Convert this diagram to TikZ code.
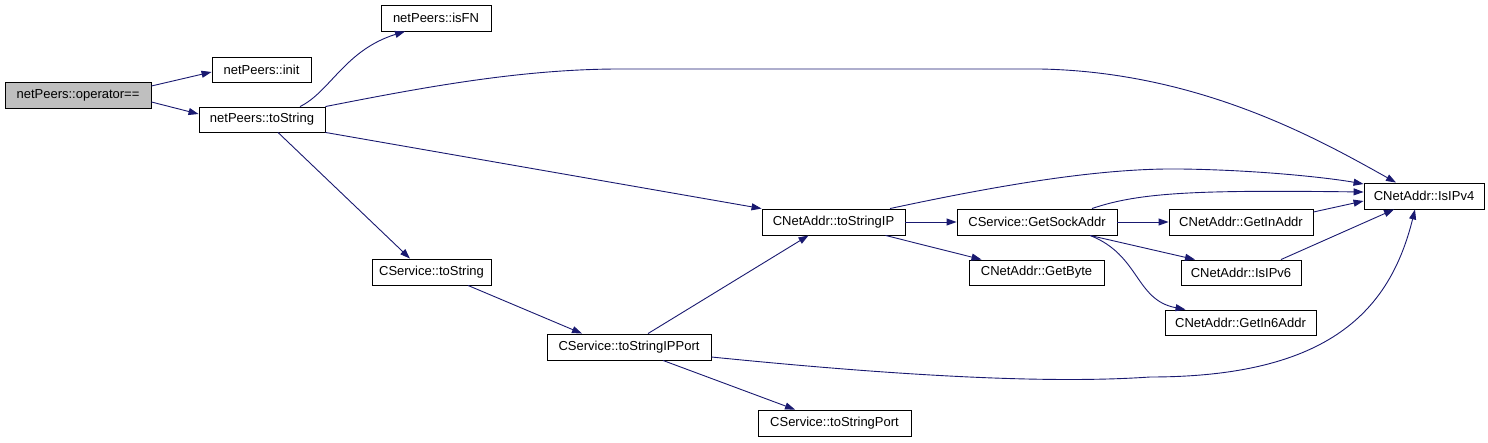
\documentclass[tikz,border=0pt]{standalone}
\usepackage{fontspec}
\setmainfont{Liberation Sans}
\usetikzlibrary{arrows.meta,calc}
\definecolor{edgeblue}{HTML}{191970}
\definecolor{nodegray}{HTML}{BFBFBF}
\tikzset{
  fn/.style={draw=black, line width=0.9pt, rectangle, inner sep=0pt, fill=white,
    font=\fontsize{13}{15}\selectfont},
  edge/.style={draw=edgeblue, line width=0.9pt, -{Triangle[length=10pt,width=7pt]}},
}
\begin{document}
\begin{tikzpicture}[x=1pt,y=-1pt]
\useasboundingbox (0,0) rectangle (1488,443);
% nodes
\node[fn, fill=nodegray, minimum width=146, minimum height=26] (op) at (78,95) {netPeers::operator==};
\node[fn, minimum width=99, minimum height=25] (init) at (261.5,69.5) {netPeers::init};
\node[fn, minimum width=126, minimum height=25] (nts) at (262,119.5) {netPeers::toString};
\node[fn, minimum width=110, minimum height=26] (isfn) at (436,18) {netPeers::isFN};
\node[fn, minimum width=119, minimum height=26] (cst) at (431.5,272) {CService::toString};
\node[fn, minimum width=164, minimum height=26] (ipport) at (629,347) {CService::toStringIPPort};
\node[fn, minimum width=153, minimum height=26] (port) at (834.5,423) {CService::toStringPort};
\node[fn, minimum width=143, minimum height=26] (tsip) at (833.5,222) {CNetAddr::toStringIP};
\node[fn, minimum width=160, minimum height=26] (gsa) at (1037,222) {CService::GetSockAddr};
\node[fn, minimum width=135, minimum height=25] (gb) at (1036.5,272.5) {CNetAddr::GetByte};
\node[fn, minimum width=144, minimum height=26] (gia) at (1241,222) {CNetAddr::GetInAddr};
\node[fn, minimum width=120, minimum height=25] (ip6) at (1241,272.5) {CNetAddr::IsIPv6};
\node[fn, minimum width=151, minimum height=25] (g6) at (1240.5,322.5) {CNetAddr::GetIn6Addr};
\node[fn, minimum width=120, minimum height=26] (ip4) at (1424,196) {CNetAddr::IsIPv4};
% edges
\draw[edge] ($(op.east)+(0,-9)$) -- ($(init.west)+(0,2.5)$);
\draw[edge] ($(op.east)+(0,7)$) -- ($(nts.west)+(0,-5.5)$);
\draw[edge] ($(nts.north)+(38,0)$) .. controls (330,92) and (345,50) .. ($(isfn.south)+(-31,0)$);
\draw[edge] (nts.north east) .. controls (420,88) and (520,69) .. (620,69) -- (1040,69)
   .. controls (1200,72) and (1320,140) .. ($(ip4.north)+(-28,0)$);
\draw[edge] (nts.south east) -- (tsip.north west);
\draw[edge] ($(nts.south)+(16,0)$) -- ($(cst.north)+(-21.5,0)$);
\draw[edge] ($(cst.south)+(36.5,0)$) -- ($(ipport.north)+(-47,0)$);
\draw[edge] ($(ipport.north)+(19,0)$) -- ($(tsip.south)+(-25,0)$);
\draw[edge] ($(ipport.south)+(34,0)$) -- ($(port.north)+(-39.5,0)$);
\draw[edge] ($(ipport.east)+(0,10)$) .. controls (900,376) and (1050,384) .. (1150,377)
   .. controls (1330,377) and (1390,310) .. ($(ip4.south)+(-9,0)$);
\draw[edge] ($(tsip.north)+(56.5,0)$) .. controls (1000,185) and (1100,168) .. (1180,169)
   .. controls (1260,170) and (1330,178) .. ($(ip4.west)+(0,-12)$);
\draw[edge] (tsip.east) -- (gsa.west);
\draw[edge] ($(tsip.south)+(52,0)$) -- ($(gb.north)+(-55,0)$);
\draw[edge] ($(gsa.north)+(55,0)$) .. controls (1140,192) and (1200,190) .. ($(ip4.west)+(0,-4)$);
\draw[edge] (gsa.east) -- (gia.west);
\draw[edge] ($(gsa.south)+(53,0)$) -- ($(ip6.north)+(-46,0)$);
\draw[edge] ($(gsa.south)+(53,0)$) .. controls (1140,255) and (1135,300) .. ($(g6.north)+(-55,0)$);
\draw[edge] ($(gia.east)+(0,-10)$) -- ($(ip4.west)+(0,5)$);
\draw[edge] ($(ip6.north)+(40,0)$) -- ($(ip4.south)+(-30,0)$);
\end{tikzpicture}
\end{document}
